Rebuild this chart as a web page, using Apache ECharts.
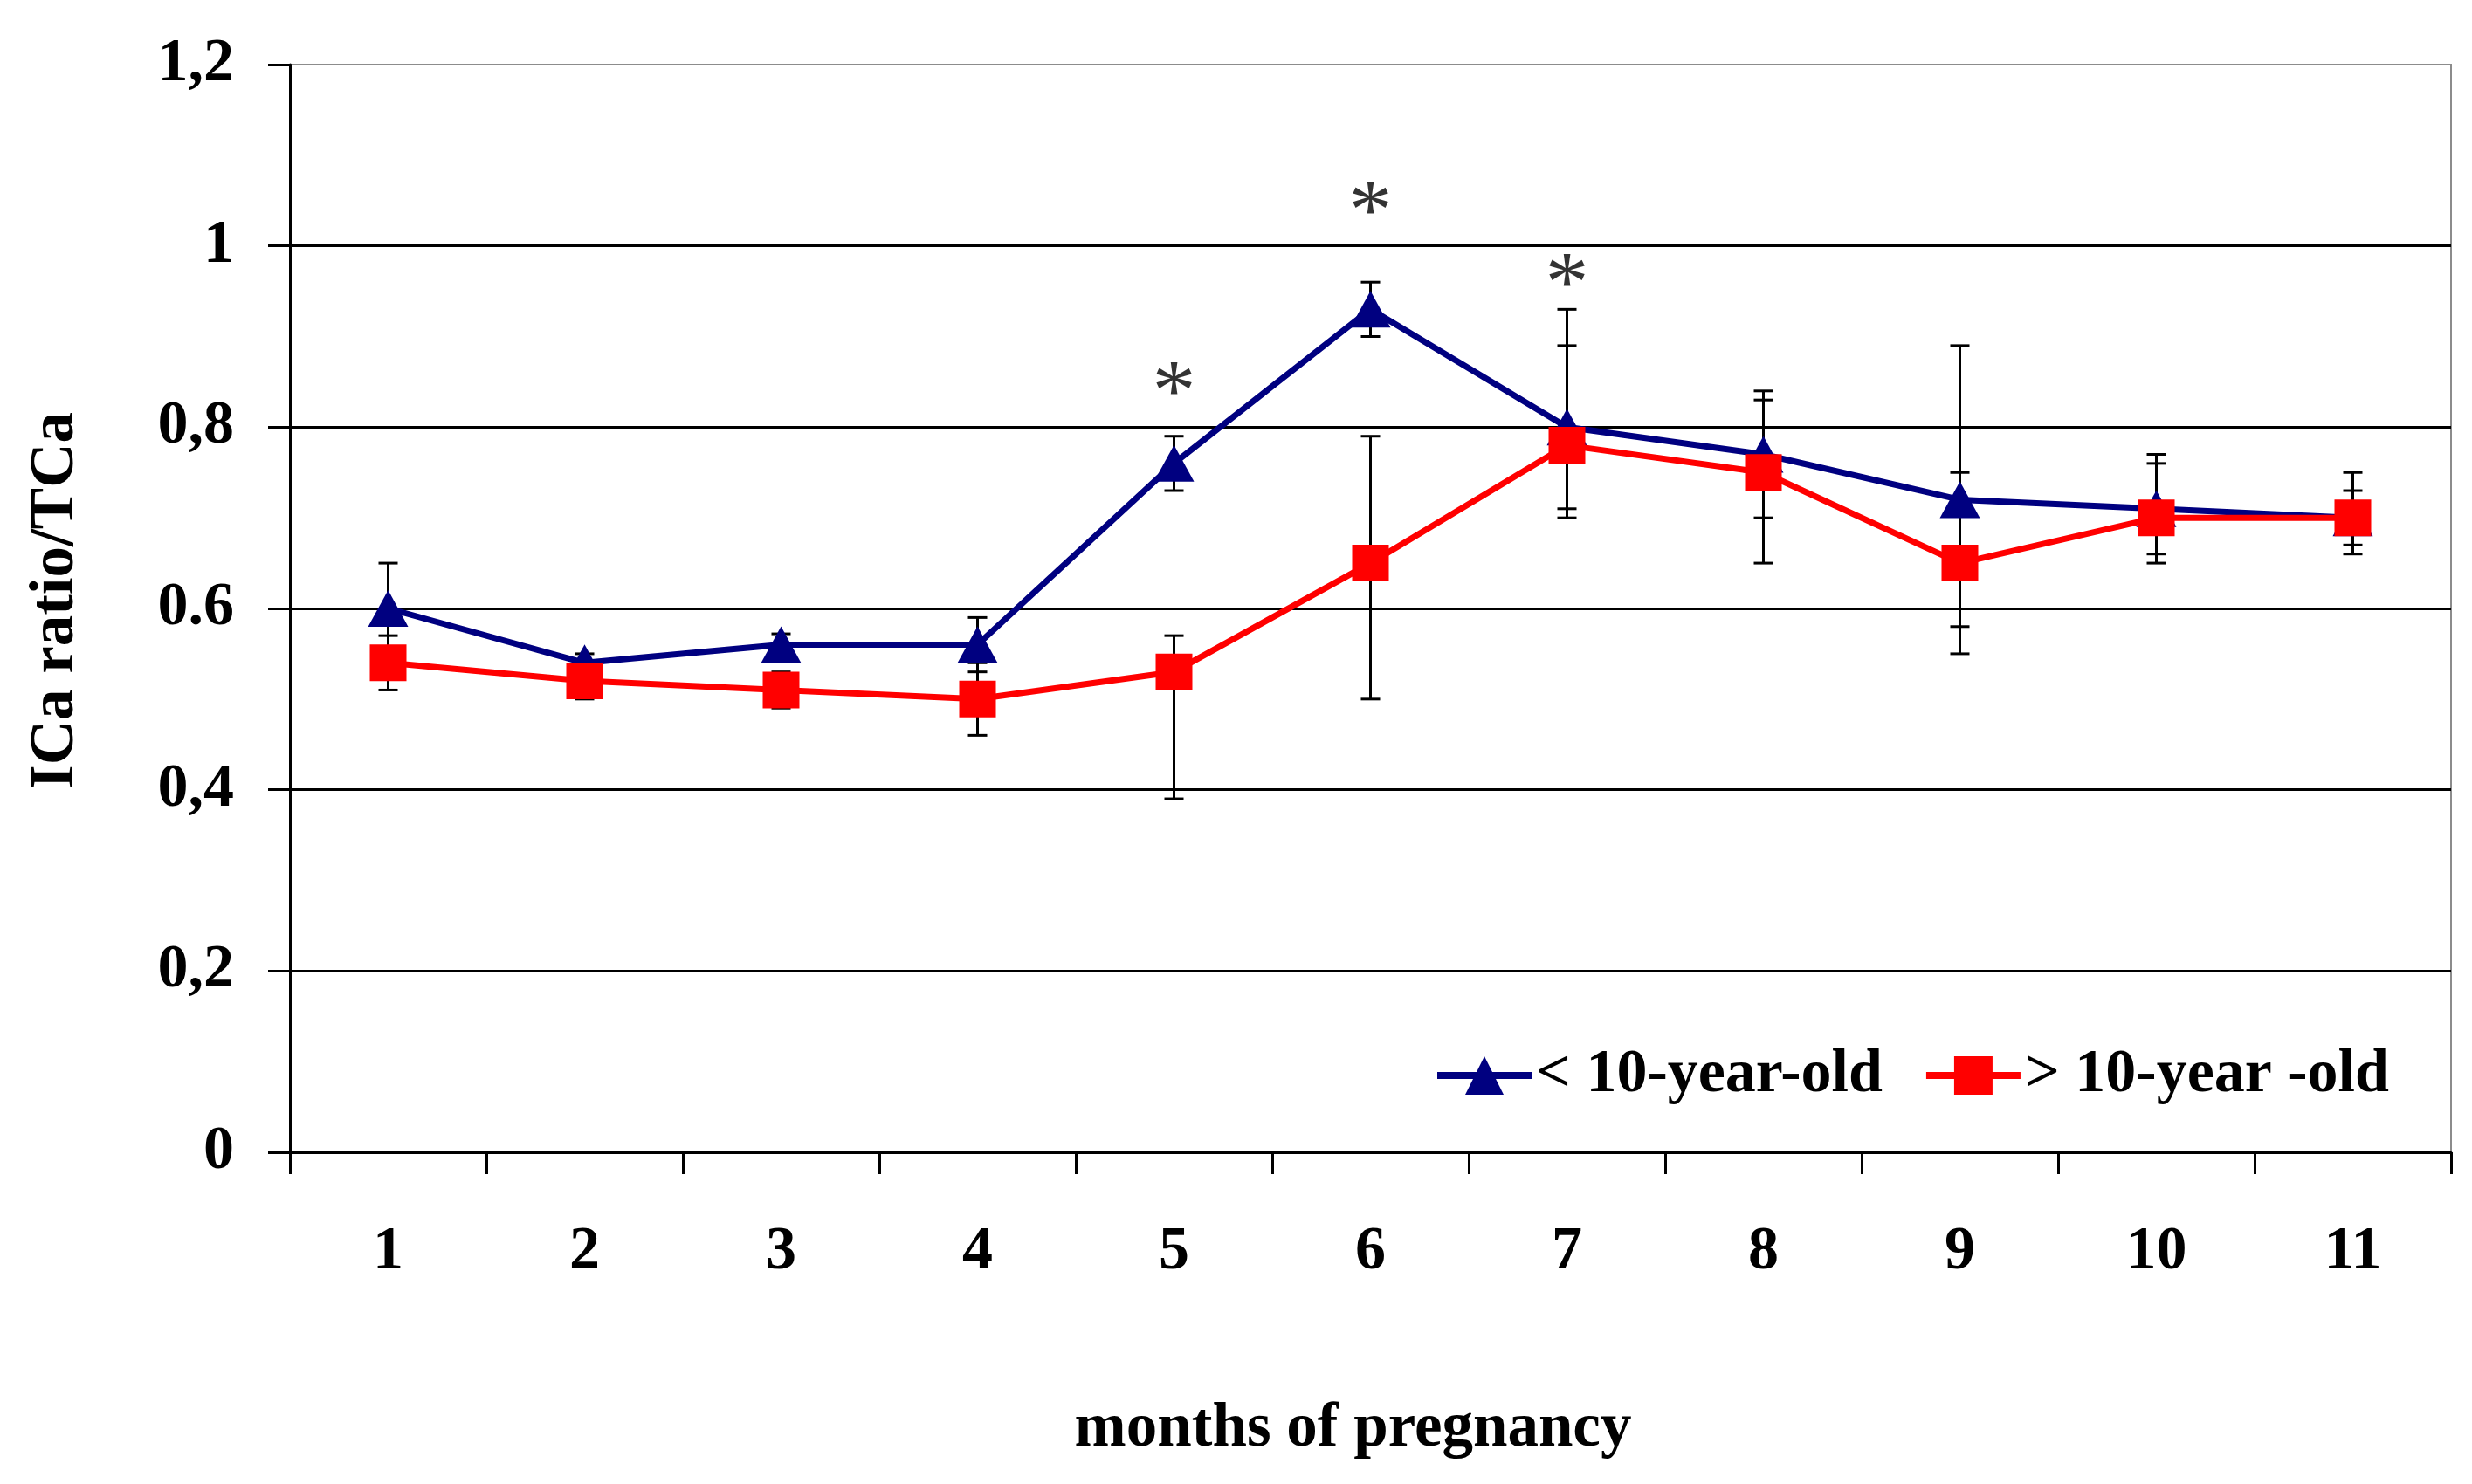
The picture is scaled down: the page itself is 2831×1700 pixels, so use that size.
<!DOCTYPE html>
<html>
<head>
<meta charset="utf-8">
<script src="https://cdn.jsdelivr.net/npm/echarts@6/dist/echarts.min.js"></script>
<style>
  html, body { margin: 0; padding: 0; background: #fff; }
  #chart { width: 2831px; height: 1700px; }
</style>
</head>
<body>
<div id="chart"></div>
<script>
// ---- data ----
const months = ['1', '2', '3', '4', '5', '6', '7', '8', '9', '10', '11'];
const yTickLabels = ['0', '0,2', '0,4', '0.6', '0,8', '1', '1,2'];

const youngName = '< 10-year-old';
const youngVals = [0.60, 0.54, 0.56, 0.56, 0.76, 0.93, 0.80, 0.77, 0.72, 0.71, 0.70];
const youngLow  = [0.55, 0.53, 0.545, 0.53, 0.73, 0.90, 0.71, 0.70, 0.58, 0.66, 0.66];
const youngHigh = [0.65, 0.55, 0.572, 0.59, 0.79, 0.96, 0.89, 0.84, 0.89, 0.76, 0.75];

const oldName = '> 10-year -old';
const oldVals = [0.54, 0.52, 0.51, 0.50, 0.53, 0.65, 0.78, 0.75, 0.65, 0.70, 0.70];
const oldLow  = [0.51, 0.50, 0.49, 0.46, 0.39, 0.50, 0.70, 0.65, 0.55, 0.65, 0.67];
const oldHigh = [0.57, 0.54, 0.53, 0.54, 0.57, 0.79, 0.93, 0.83, 0.75, 0.77, 0.73];

// significance marks (*) above months 5-7
const starMonths = ['5', '6', '7'];
const starY = [0.855, 1.055, 0.975];

const FONT = '"Liberation Serif", "Times New Roman", serif';

// ---- error bars via custom series ----
function errorData(low, high) {
  return months.map((m, i) => [i, low[i], high[i]]);
}

function renderError(params, api) {
  const x = api.value(0);
  const lo = api.coord([x, api.value(1)]);
  const hi = api.coord([x, api.value(2)]);
  const half = 11;
  const style = { stroke: '#000', lineWidth: 3 };
  return {
    type: 'group',
    children: [
      { type: 'line', shape: { x1: hi[0], y1: hi[1], x2: lo[0], y2: lo[1] }, style },
      { type: 'line', shape: { x1: hi[0] - half, y1: hi[1], x2: hi[0] + half, y2: hi[1] }, style },
      { type: 'line', shape: { x1: lo[0] - half, y1: lo[1], x2: lo[0] + half, y2: lo[1] }, style },
    ],
  };
}

const chart = echarts.init(document.getElementById('chart'));

chart.setOption({
  backgroundColor: '#fff',
  animation: false,
  grid: {
    left: 332, right: 24, top: 74, bottom: 380,
    show: true, borderColor: '#8c8c8c', borderWidth: 2,
  },
  legend: {
    data: [youngName, oldName],
    left: 1637,
    top: 1192,
    itemWidth: 108,
    itemHeight: 55,
    itemGap: 46,
    lineStyle: { width: 8 },
    textStyle: { fontFamily: FONT, fontWeight: 'bold', fontSize: 70, color: '#000' },
  },
  xAxis: {
    type: 'category',
    data: months,
    boundaryGap: true,
    name: 'months of pregnancy',
    nameLocation: 'middle',
    nameGap: 282,
    nameTextStyle: {
      fontFamily: FONT, fontWeight: 'bold', fontSize: 71, color: '#000',
      padding: [0, 40, 0, 0],
    },
    axisLine: { lineStyle: { color: '#000', width: 3 } },
    axisTick: { show: true, inside: false, length: 25, lineStyle: { color: '#000', width: 3 } },
    axisLabel: { margin: 80, fontFamily: FONT, fontWeight: 'bold', fontSize: 70, color: '#000' },
    splitLine: { show: false },
  },
  yAxis: {
    type: 'value',
    min: 0, max: 1.2, interval: 0.2,
    name: 'ICa ratio/TCa',
    nameLocation: 'middle',
    nameGap: 232,
    nameTextStyle: {
      fontFamily: FONT, fontWeight: 'bold', fontSize: 71, color: '#000',
      padding: [0, 0, 0, 18],
    },
    axisLine: { show: true, lineStyle: { color: '#000', width: 3 } },
    axisTick: { show: true, inside: false, length: 25, lineStyle: { color: '#000', width: 3 } },
    axisLabel: {
      margin: 64,
      fontFamily: FONT, fontWeight: 'bold', fontSize: 70, color: '#000',
      formatter: (v) => yTickLabels[Math.round(v / 0.2)],
    },
    splitLine: { show: true, showMaxLine: false, lineStyle: { color: '#000', width: 3 } },
  },
  series: [
    {
      type: 'custom',
      name: 'err-young',
      renderItem: renderError,
      data: errorData(youngLow, youngHigh),
      z: 1,
      silent: true,
    },
    {
      type: 'custom',
      name: 'err-old',
      renderItem: renderError,
      data: errorData(oldLow, oldHigh),
      z: 1,
      silent: true,
    },
    {
      type: 'line',
      name: youngName,
      data: youngVals,
      symbol: 'triangle',
      symbolSize: [46, 42],
      lineStyle: { color: '#000080', width: 7 },
      itemStyle: { color: '#000080' },
      z: 3,
    },
    {
      type: 'line',
      name: oldName,
      data: oldVals,
      symbol: 'rect',
      symbolSize: 42,
      lineStyle: { color: '#ff0000', width: 7 },
      itemStyle: { color: '#ff0000' },
      z: 4,
    },
    {
      type: 'scatter',
      name: 'stars',
      data: starMonths.map((m, i) => [m, starY[i]]),
      symbolSize: 1,
      itemStyle: { color: 'rgba(0,0,0,0)' },
      label: {
        show: true,
        position: 'inside',
        formatter: '*',
        fontFamily: FONT,
        fontSize: 100,
        color: '#000',
        offset: [0, 22],
      },
      z: 5,
      silent: true,
    },
  ],
});
</script>
</body>
</html>
